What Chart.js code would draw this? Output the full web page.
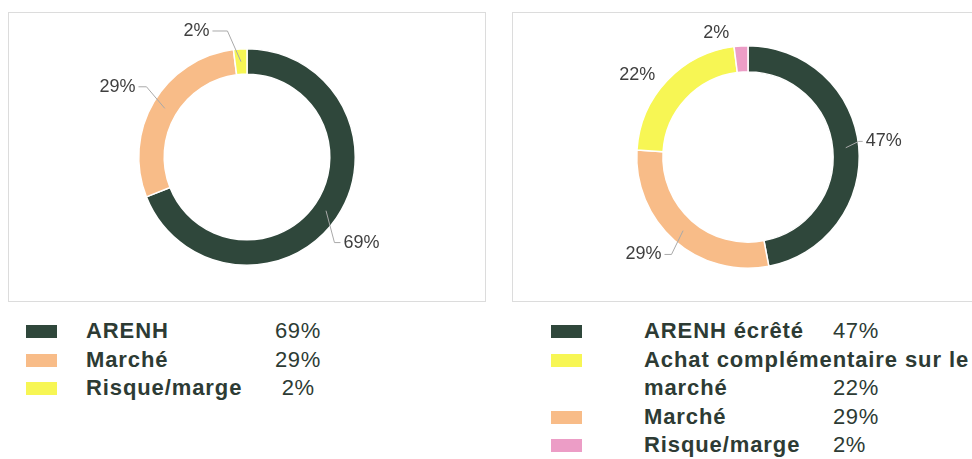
<!DOCTYPE html>
<html>
<head>
<meta charset="utf-8">
<script src="https://cdn.jsdelivr.net/npm/chart.js@4"></script>
<style>
  body { margin: 0; width: 972px; height: 459px; overflow: hidden; background: #fff; position: relative;
         font-family: "Liberation Sans", Arial, sans-serif; }
  .box { position: absolute; top: 12px; height: 290px; border: 1px solid #dcdcdc; box-sizing: border-box; }
  .box canvas { position: absolute; left: 0; top: 0; }
  .legend { position: absolute; top: 317px; }
  .row { position: relative; display: flex; align-items: flex-start; line-height: 28.5px; color: #2d3b34; }
  .sw { width: 31px; height: 13px; margin-top: 8px; flex: none; }
  .lab { position: relative; font-weight: bold; font-size: 22px; letter-spacing: 0.9px; }
  .val { position: absolute; bottom: 0; font-weight: normal; font-size: 22px; letter-spacing: 0.6px; white-space: pre; }
</style>
</head>
<body>
<div class="box" style="left:8px;width:478px"><canvas id="left" width="476" height="288"></canvas></div>
<div class="box" style="left:512px;width:472px"><canvas id="right" width="470" height="288"></canvas></div>
<div class="legend" id="leftLegend" style="left:26px"></div>
<div class="legend" id="rightLegend" style="left:551px"></div>
<script>
// left chart
const leftLabels = ['ARENH', 'Marché', 'Risque/marge'];
const leftValues = [69, 29, 2];
const leftColors = ['#2f473b', '#f8bc88', '#f7f654'];

// right chart (drawing order, clockwise from top)
const rightLabels = ['ARENH écrêté', 'Marché', 'Achat complémentaire sur le marché', 'Risque/marge'];
const rightValues = [47, 29, 22, 2];
const rightColors = ['#2f473b', '#f8bc88', '#f7f654', '#ec9dc6'];
const rightLegendOrder = [0, 2, 1, 3];

// callout tweaks for the percent labels
const leftCallouts = [
  {dx: -12, dy: 18, h: 6, line: true},
  {dx: 3, dy: -9, h: 8, line: true},
  {dx: -12, dy: -6, h: 15, line: true}
];
const rightCallouts = [
  {dx: -12, dy: -4, h: 4, line: true},
  {dx: 5, dy: 5, h: 7, line: true},
  {dx: -3, dy: 2, h: 0, line: false},
  {dx: -11, dy: -1, h: 0, line: false}
];

const callouts = {
  id: 'callouts',
  afterDatasetsDraw(chart, args, opts) {
    const ctx = chart.ctx;
    const meta = chart.getDatasetMeta(0);
    const vals = chart.data.datasets[0].data;
    ctx.save();
    ctx.font = '18px "Liberation Sans", Arial, sans-serif';
    ctx.textBaseline = 'middle';
    meta.data.forEach((arc, i) => {
      const p = arc.getProps(['x', 'y', 'startAngle', 'endAngle', 'innerRadius', 'outerRadius'], true);
      const c = opts.items[i];
      const mid = (p.startAngle + p.endAngle) / 2;
      const cx = Math.cos(mid), cy = Math.sin(mid);
      const rm = (p.innerRadius + p.outerRadius) / 2;
      const ex = p.x + (p.outerRadius + 12) * cx + c.dx;
      const ey = p.y + (p.outerRadius + 12) * cy + c.dy;
      const right = cx > 0;
      const hx = right ? ex + c.h : ex - c.h;
      if (c.line) {
        ctx.strokeStyle = '#a9a9a9';
        ctx.lineWidth = 1;
        ctx.beginPath();
        ctx.moveTo(p.x + rm * cx, p.y + rm * cy);
        ctx.lineTo(ex, ey);
        ctx.lineTo(hx, ey);
        ctx.stroke();
      }
      ctx.fillStyle = '#3f3f3f';
      ctx.textAlign = right ? 'left' : 'right';
      const gap = c.line ? 3 : 0;
      ctx.fillText(vals[i] + '%', right ? hx + gap : hx - gap, ey);
    });
    ctx.restore();
  }
};

function makeChart(id, labels, values, colors, items, pad) {
  return new Chart(document.getElementById(id), {
    type: 'doughnut',
    data: {
      labels: labels,
      datasets: [{
        data: values,
        backgroundColor: colors,
        borderColor: '#ffffff',
        borderWidth: 1.5
      }]
    },
    options: {
      responsive: false,
      animation: false,
      cutout: '76.5%',
      layout: { padding: { top: pad, bottom: pad } },
      plugins: {
        legend: { display: false },
        tooltip: { enabled: false },
        callouts: { items: items }
      }
    },
    plugins: [callouts]
  });
}

makeChart('left', leftLabels, leftValues, leftColors, leftCallouts, 35);
makeChart('right', rightLabels, rightValues, rightColors, rightCallouts, 32);

function buildLegend(el, labels, values, colors, order, labelX, valueX, labelWidth, padValue) {
  order.forEach(i => {
    const row = document.createElement('div');
    row.className = 'row';
    const sw = document.createElement('div');
    sw.className = 'sw';
    sw.style.background = colors[i];
    sw.style.marginRight = (labelX - 31) + 'px';
    const lab = document.createElement('div');
    lab.className = 'lab';
    lab.style.width = labelWidth + 'px';
    lab.textContent = labels[i];
    const val = document.createElement('span');
    val.className = 'val';
    val.style.left = valueX + 'px';
    let t = values[i] + '%';
    if (padValue && values[i] < 10) t = ' ' + t;
    val.textContent = t;
    lab.appendChild(val);
    row.appendChild(sw);
    row.appendChild(lab);
    el.appendChild(row);
  });
}

buildLegend(document.getElementById('leftLegend'), leftLabels, leftValues, leftColors, [0, 1, 2], 60, 189, 300, true);
buildLegend(document.getElementById('rightLegend'), rightLabels, rightValues, rightColors, rightLegendOrder, 93, 189, 330, false);
</script>
</body>
</html>
